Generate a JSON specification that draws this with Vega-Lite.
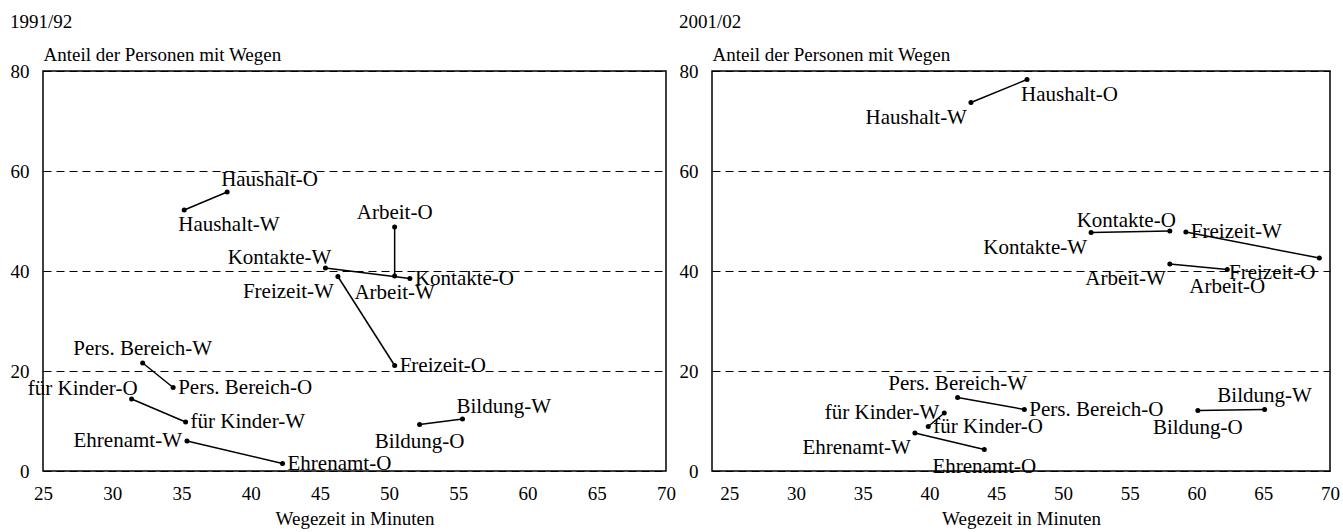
{
  "$schema": "https://vega.github.io/schema/vega-lite/v6.json",
  "background": "white",
  "padding": {"left": 9, "top": 12, "right": 0, "bottom": 0},
  "config": {
    "font": "Liberation Serif",
    "view": {"stroke": "black", "strokeWidth": 1.5},
    "axis": {"labelFont": "Liberation Serif", "titleFont": "Liberation Serif", "labelColor": "black", "titleColor": "black", "labelFontSize": 19, "titleFontSize": 19, "titleFontWeight": "normal", "ticks": false, "domain": false, "labelFlush": false},
    "title": {"font": "Liberation Serif", "fontSize": 19, "fontWeight": "normal", "anchor": "start", "color": "black", "offset": 13},
    "text": {"font": "Liberation Serif", "fontSize": 21, "color": "black"}
  },
  "datasets": {
    "pts": [
      {"period": "1991/92", "cat": "Haushalt", "label": "Haushalt-O", "x": 38.3, "y": 55.8, "pos": "NE"},
      {"period": "1991/92", "cat": "Haushalt", "label": "Haushalt-W", "x": 35.2, "y": 52.2, "pos": "SE"},
      {"period": "1991/92", "cat": "Arbeit", "label": "Arbeit-O", "x": 50.4, "y": 48.8, "pos": "N"},
      {"period": "1991/92", "cat": "Arbeit", "label": "Arbeit-W", "x": 50.4, "y": 39.0, "pos": "S"},
      {"period": "1991/92", "cat": "Kontakte", "label": "Kontakte-W", "x": 45.4, "y": 40.6, "pos": "NW"},
      {"period": "1991/92", "cat": "Kontakte", "label": "Kontakte-O", "x": 51.5, "y": 38.5, "pos": "E"},
      {"period": "1991/92", "cat": "Freizeit", "label": "Freizeit-W", "x": 46.3, "y": 38.9, "pos": "SW"},
      {"period": "1991/92", "cat": "Freizeit", "label": "Freizeit-O", "x": 50.4, "y": 21.1, "pos": "E"},
      {"period": "1991/92", "cat": "Pers. Bereich", "label": "Pers. Bereich-W", "x": 32.2, "y": 21.6, "pos": "N"},
      {"period": "1991/92", "cat": "Pers. Bereich", "label": "Pers. Bereich-O", "x": 34.4, "y": 16.7, "pos": "E"},
      {"period": "1991/92", "cat": "für Kinder", "label": "für Kinder-O", "x": 31.4, "y": 14.4, "pos": "NW"},
      {"period": "1991/92", "cat": "für Kinder", "label": "für Kinder-W", "x": 35.3, "y": 9.8, "pos": "E"},
      {"period": "1991/92", "cat": "Ehrenamt", "label": "Ehrenamt-W", "x": 35.4, "y": 6.0, "pos": "W"},
      {"period": "1991/92", "cat": "Ehrenamt", "label": "Ehrenamt-O", "x": 42.3, "y": 1.5, "pos": "E"},
      {"period": "1991/92", "cat": "Bildung", "label": "Bildung-O", "x": 52.2, "y": 9.3, "pos": "S"},
      {"period": "1991/92", "cat": "Bildung", "label": "Bildung-W", "x": 55.3, "y": 10.4, "pos": "NE"},
      {"period": "2001/02", "cat": "Haushalt", "label": "Haushalt-O", "x": 47.3, "y": 78.3, "pos": "SE"},
      {"period": "2001/02", "cat": "Haushalt", "label": "Haushalt-W", "x": 43.1, "y": 73.7, "pos": "SW"},
      {"period": "2001/02", "cat": "Kontakte", "label": "Kontakte-O", "x": 58.0, "y": 48.0, "pos": "NW"},
      {"period": "2001/02", "cat": "Kontakte", "label": "Kontakte-W", "x": 52.1, "y": 47.7, "pos": "SW"},
      {"period": "2001/02", "cat": "Freizeit", "label": "Freizeit-W", "x": 59.2, "y": 47.8, "pos": "E"},
      {"period": "2001/02", "cat": "Freizeit", "label": "Freizeit-O", "x": 69.2, "y": 42.6, "pos": "SW"},
      {"period": "2001/02", "cat": "Arbeit", "label": "Arbeit-W", "x": 58.0, "y": 41.4, "pos": "SW"},
      {"period": "2001/02", "cat": "Arbeit", "label": "Arbeit-O", "x": 62.3, "y": 40.3, "pos": "S"},
      {"period": "2001/02", "cat": "Pers. Bereich", "label": "Pers. Bereich-W", "x": 42.1, "y": 14.7, "pos": "N"},
      {"period": "2001/02", "cat": "Pers. Bereich", "label": "Pers. Bereich-O", "x": 47.1, "y": 12.3, "pos": "E"},
      {"period": "2001/02", "cat": "für Kinder", "label": "für Kinder-W", "x": 41.1, "y": 11.6, "pos": "W"},
      {"period": "2001/02", "cat": "für Kinder", "label": "für Kinder-O", "x": 39.9, "y": 8.9, "pos": "E"},
      {"period": "2001/02", "cat": "Ehrenamt", "label": "Ehrenamt-W", "x": 38.9, "y": 7.6, "pos": "SW"},
      {"period": "2001/02", "cat": "Ehrenamt", "label": "Ehrenamt-O", "x": 44.1, "y": 4.3, "pos": "S"},
      {"period": "2001/02", "cat": "Bildung", "label": "Bildung-O", "x": 60.1, "y": 12.1, "pos": "S"},
      {"period": "2001/02", "cat": "Bildung", "label": "Bildung-W", "x": 65.1, "y": 12.3, "pos": "N"}
    ]
  },
  "bounds": "flush",
  "spacing": 46,
  "hconcat": [
    {
      "width": 623,
      "height": 400,
      "title": {"text": "1991/92"},
      "data": {"name": "pts"},
      "transform": [{"filter": "datum.period === '1991/92'"}],
      "encoding": {
        "x": {"field": "x", "type": "quantitative", "scale": {"domain": [25, 70], "nice": false, "zero": false}, "axis": {"values": [25, 30, 35, 40, 45, 50, 55, 60, 65, 70], "title": "Wegezeit in Minuten", "grid": false, "labelPadding": 13, "titlePadding": 6}},
        "y": {"field": "y", "type": "quantitative", "scale": {"domain": [0, 80], "nice": false}, "axis": {"values": [0, 20, 40, 60, 80], "title": "Anteil der Personen mit Wegen", "titleAngle": 0, "titleAlign": "left", "titleBaseline": "alphabetic", "titleX": 0, "titleY": -11, "labelPadding": 14, "grid": true, "gridDash": [8, 5], "gridColor": "black", "gridOpacity": 1, "gridWidth": 1}}
      },
      "layer": [
        {"mark": {"type": "line", "color": "black", "strokeWidth": 1.5}, "encoding": {"detail": {"field": "cat"}}},
        {"mark": {"type": "point", "filled": true, "color": "black", "size": 25, "opacity": 1}},
        {"transform": [{"filter": "datum.pos === 'E'"}], "mark": {"type": "text", "align": "left", "baseline": "middle", "dx": 5}, "encoding": {"text": {"field": "label"}}},
        {"transform": [{"filter": "datum.pos === 'W'"}], "mark": {"type": "text", "align": "right", "baseline": "middle", "dx": -5}, "encoding": {"text": {"field": "label"}}},
        {"transform": [{"filter": "datum.pos === 'N'"}], "mark": {"type": "text", "align": "center", "baseline": "alphabetic", "dy": -8}, "encoding": {"text": {"field": "label"}}},
        {"transform": [{"filter": "datum.pos === 'S'"}], "mark": {"type": "text", "align": "center", "baseline": "top", "dy": 6}, "encoding": {"text": {"field": "label"}}},
        {"transform": [{"filter": "datum.pos === 'NE'"}], "mark": {"type": "text", "align": "left", "baseline": "alphabetic", "dx": -6, "dy": -6}, "encoding": {"text": {"field": "label"}}},
        {"transform": [{"filter": "datum.pos === 'NW'"}], "mark": {"type": "text", "align": "right", "baseline": "alphabetic", "dx": 6, "dy": -4}, "encoding": {"text": {"field": "label"}}},
        {"transform": [{"filter": "datum.pos === 'SE'"}], "mark": {"type": "text", "align": "left", "baseline": "top", "dx": -6, "dy": 4}, "encoding": {"text": {"field": "label"}}},
        {"transform": [{"filter": "datum.pos === 'SW'"}], "mark": {"type": "text", "align": "right", "baseline": "top", "dx": -4, "dy": 4}, "encoding": {"text": {"field": "label"}}}
      ]
    },
    {
      "width": 618,
      "height": 400,
      "title": {"text": "2001/02"},
      "data": {"name": "pts"},
      "transform": [{"filter": "datum.period === '2001/02'"}],
      "encoding": {
        "x": {"field": "x", "type": "quantitative", "scale": {"domain": [23.7, 70], "nice": false, "zero": false}, "axis": {"values": [25, 30, 35, 40, 45, 50, 55, 60, 65, 70], "title": "Wegezeit in Minuten", "grid": false, "labelPadding": 13, "titlePadding": 6}},
        "y": {"field": "y", "type": "quantitative", "scale": {"domain": [0, 80], "nice": false}, "axis": {"values": [0, 20, 40, 60, 80], "title": "Anteil der Personen mit Wegen", "titleAngle": 0, "titleAlign": "left", "titleBaseline": "alphabetic", "titleX": 0, "titleY": -11, "labelPadding": 14, "grid": true, "gridDash": [8, 5], "gridColor": "black", "gridOpacity": 1, "gridWidth": 1}}
      },
      "layer": [
        {"mark": {"type": "line", "color": "black", "strokeWidth": 1.5}, "encoding": {"detail": {"field": "cat"}}},
        {"mark": {"type": "point", "filled": true, "color": "black", "size": 25, "opacity": 1}},
        {"transform": [{"filter": "datum.pos === 'E'"}], "mark": {"type": "text", "align": "left", "baseline": "middle", "dx": 5}, "encoding": {"text": {"field": "label"}}},
        {"transform": [{"filter": "datum.pos === 'W'"}], "mark": {"type": "text", "align": "right", "baseline": "middle", "dx": -5}, "encoding": {"text": {"field": "label"}}},
        {"transform": [{"filter": "datum.pos === 'N'"}], "mark": {"type": "text", "align": "center", "baseline": "alphabetic", "dy": -8}, "encoding": {"text": {"field": "label"}}},
        {"transform": [{"filter": "datum.pos === 'S'"}], "mark": {"type": "text", "align": "center", "baseline": "top", "dy": 6}, "encoding": {"text": {"field": "label"}}},
        {"transform": [{"filter": "datum.pos === 'NE'"}], "mark": {"type": "text", "align": "left", "baseline": "alphabetic", "dx": -6, "dy": -6}, "encoding": {"text": {"field": "label"}}},
        {"transform": [{"filter": "datum.pos === 'NW'"}], "mark": {"type": "text", "align": "right", "baseline": "alphabetic", "dx": 6, "dy": -4}, "encoding": {"text": {"field": "label"}}},
        {"transform": [{"filter": "datum.pos === 'SE'"}], "mark": {"type": "text", "align": "left", "baseline": "top", "dx": -6, "dy": 4}, "encoding": {"text": {"field": "label"}}},
        {"transform": [{"filter": "datum.pos === 'SW'"}], "mark": {"type": "text", "align": "right", "baseline": "top", "dx": -4, "dy": 4}, "encoding": {"text": {"field": "label"}}}
      ]
    }
  ]
}
